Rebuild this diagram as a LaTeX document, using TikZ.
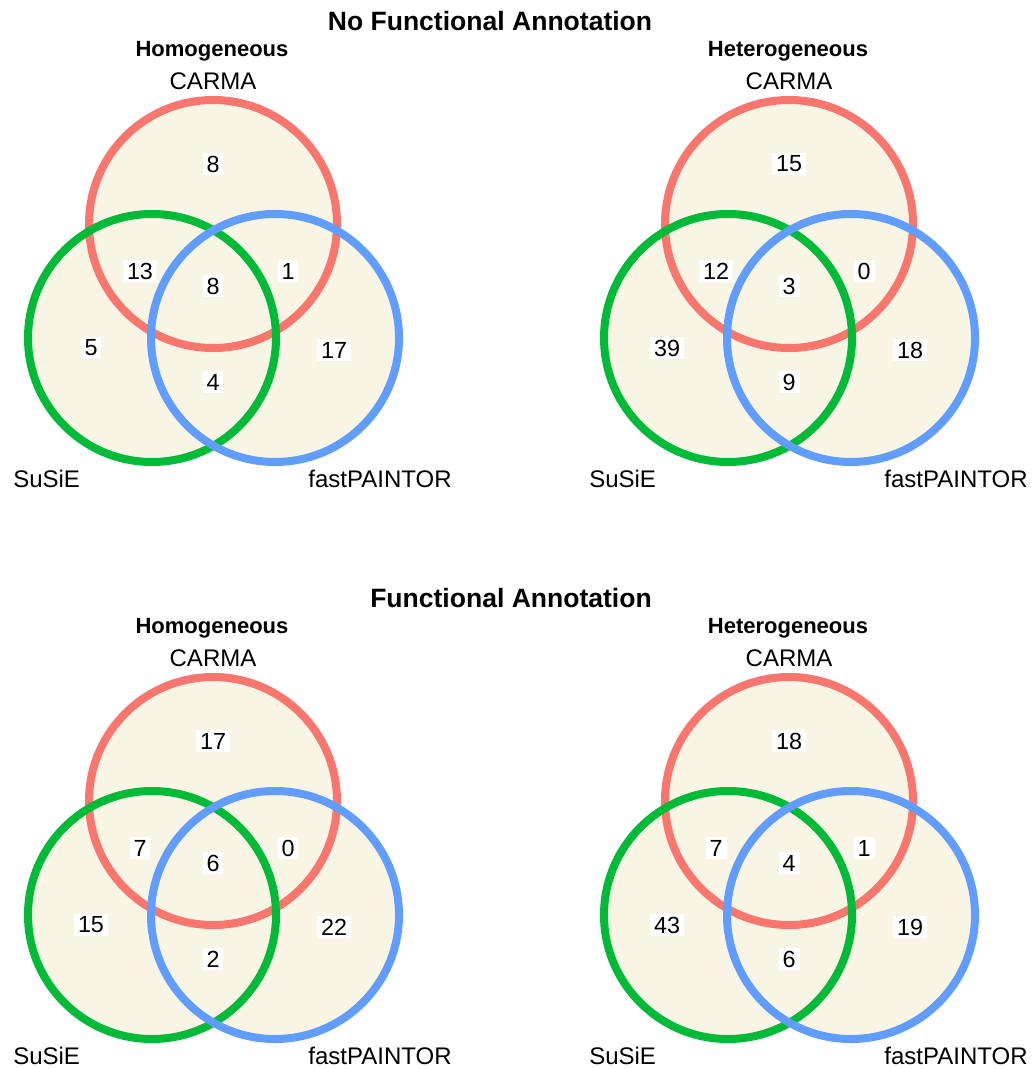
\documentclass[tikz,border=0pt]{standalone}
\usepackage{fontspec}
\setmainfont{Liberation Sans}
\definecolor{cred}{HTML}{F8766D}
\definecolor{cgreen}{HTML}{00BA38}
\definecolor{cblue}{HTML}{619CFF}
\definecolor{cfill}{HTML}{F8F5E5}
\tikzset{
  ring/.style={line width=6pt},
  num/.style={fill=white, inner xsep=3pt, inner ysep=2pt, font=\fontsize{17.5}{19}\selectfont},
  setlbl/.style={font=\fontsize{18}{20}\selectfont, inner sep=0pt},
  subttl/.style={font=\bfseries\fontsize{16.5}{18}\selectfont, inner sep=0pt},
  ttl/.style={font=\bfseries\fontsize{19.9}{22}\selectfont, inner sep=0pt}
}
\begin{document}
\begin{tikzpicture}[x=0.75pt,y=-0.75pt]
\useasboundingbox (0,0) rectangle (1034,1069);
\node[ttl] (t1) at (490,21) {No Functional Annotation};
\node[ttl] (t2) at (511,598) {Functional Annotation};
\foreach \dx/\dy/\sub/\a/\b/\c/\d/\e/\f/\g/\id in {
  0/0/Homogeneous/8/13/8/1/5/17/4/A,
  576/0/Heterogeneous/15/12/3/0/39/18/9/B,
  0/577/Homogeneous/17/7/6/0/15/22/2/C,
  576/577/Heterogeneous/18/7/4/1/43/19/6/D}{
  \begin{scope}[shift={(\dx,\dy)}]
    \fill[cfill] (213,224) circle (124);
    \fill[cfill] (152,338) circle (124);
    \fill[cfill] (275,338) circle (124);
    \draw[ring, cred] (213,224) circle (124);
    \draw[ring, cgreen] (152,338) circle (124);
    \draw[ring, cblue] (275,338) circle (124);
    \node[subttl] (sub\id) at (212,51) {\sub};
    \node[setlbl] (carma\id) at (213,81) {CARMA};
    \node[setlbl, anchor=west] (susie\id) at (13,479) {SuSiE};
    \node[setlbl] (fp\id) at (380,479) {fastPAINTOR};
    \node[num] (n1\id) at (213,164) {\a};
    \node[num] (n2\id) at (140,271) {\b};
    \node[num] (n3\id) at (213,286) {\c};
    \node[num] (n4\id) at (288,271) {\d};
    \node[num] (n5\id) at (91,348) {\e};
    \node[num] (n6\id) at (334,350) {\f};
    \node[num] (n7\id) at (213,382) {\g};
  \end{scope}
}
\end{tikzpicture}
\end{document}
